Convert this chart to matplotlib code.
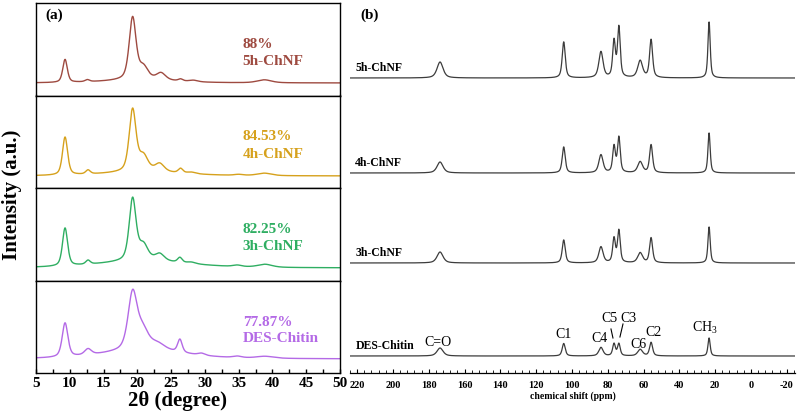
import numpy as np
import matplotlib
matplotlib.use("Agg")
import matplotlib.pyplot as plt
from matplotlib.ticker import MultipleLocator

plt.rcParams['font.family'] = ['Liberation Serif', 'DejaVu Serif']
plt.rcParams['mathtext.fontset'] = 'custom'
plt.rcParams['mathtext.rm'] = 'Liberation Serif'
plt.rcParams['axes.unicode_minus'] = False

# ---------------- (a) XRD data: peak lists ----------------
xrd_names = ['5h-ChNF', '4h-ChNF', '3h-ChNF', 'DES-Chitin']
xrd_ci = ['88%', '84.53%', '82.25%', '77.87%']
xrd_colors = ['#9e4a40', '#d6a11c', '#2fae62', '#b46ae6']
xrd_base = [12.5, 12.0, 12.5, 14.0]
# (centre 2theta, height, fwhm)
xrd_peaks = [
    [(20.5, 3, 12), (9.3, 23, 0.8), (12.6, 2, 0.8), (19.3, 62, 1.2), (20.9, 12, 1.6),
     (23.5, 7, 1.6), (26.4, 2, 0.8), (28.3, 1.5, 1.5), (38.8, 3, 2.5)],
    [(21, 4, 14), (9.3, 38, 0.9), (12.7, 4, 0.8), (19.3, 62, 1.2), (20.9, 15, 1.6),
     (23.3, 8, 1.6), (26.4, 4.5, 0.8), (28, 1.5, 1.5), (35, 1, 1.5), (38.8, 2.5, 2.5)],
    [(21, 7, 16), (9.3, 38, 0.9), (12.7, 4, 0.8), (19.3, 62, 1.2), (20.9, 15, 1.6),
     (23.3, 7, 1.6), (26.3, 5, 0.8), (28, 1.5, 1.5), (34.8, 1.5, 1.5), (38.9, 3, 2.5)],
    [(21, 9, 14), (9.3, 34, 1.0), (12.7, 6, 1.2), (19.3, 56, 1.6), (20.8, 18, 2.0),
     (23, 6, 2.5), (26.3, 13, 0.8), (29.5, 2, 1.2), (34.8, 1.5, 1.5), (38.9, 2, 3)],
]

# ---------------- (b) 13C NMR data ----------------
nmr_names = ['5h-ChNF', '4h-ChNF', '3h-ChNF', 'DES-Chitin']
nmr_offsets = [295, 200, 110, 17]
nmr_pos = [173.7, 104.6, 83.8, 76.5, 73.8, 61.9, 55.8, 23.4]
nmr_fwhm = [4.0, 2.0, 2.8, 1.8, 1.8, 3.2, 2.0, 1.5]
nmr_heights = [
    [16, 36, 26, 36, 50, 17, 38, 56],
    [11, 26, 18, 26, 35, 11, 28, 40],
    [11, 23, 16, 24, 32, 10, 25, 36],
    [8, 12.5, 8.5, 12, 12, 6.5, 13.5, 18],
]
nmr_labels = ['C=O', 'C1', 'C4', 'C5', 'C3', 'C6', 'C2', 'CH$_3$']
nmr_label_x = [175, 104.5, 84.4, 79.3, 68.2, 62.6, 54.7, 25.7]
nmr_label_y = [30, 38, 35, 54, 54, 29, 40, 45]


def pvoigt(x, peaks, eta=0.5):
    y = np.zeros_like(x)
    for c, h, w in peaks:
        g = np.exp(-4 * np.log(2) * ((x - c) / w) ** 2)
        l = 1 / (1 + 4 * ((x - c) / w) ** 2)
        y += h * (eta * l + (1 - eta) * g)
    return y


W, H = 797, 420
fig = plt.figure(figsize=(W / 100, H / 100), dpi=100)

# left panel stack
tth = np.linspace(5, 50, 2000)
top, bottom = 3, 373
ph = (bottom - top) / 4
axes_a = []
for i in range(4):
    y0 = top + ph * (i + 1)
    ax = fig.add_axes([36 / W, 1 - y0 / H, 304 / W, ph / H])
    y = xrd_base[i] + pvoigt(tth, xrd_peaks[i])
    ax.plot(tth, y, color=xrd_colors[i], lw=1.0)
    ax.set_xlim(5, 50)
    ax.set_ylim(0, ph)
    ax.set_yticks([])
    for s in ax.spines.values():
        s.set_linewidth(1.0)
    ax.text(35.6, 51, xrd_ci[i], color=xrd_colors[i], fontsize=11, fontweight='bold',
            ha='left', va='center')
    ax.text(35.6, 34, xrd_names[i], color=xrd_colors[i], fontsize=11, fontweight='bold',
            ha='left', va='center')
    if i < 3:
        ax.set_xticks([])
    else:
        ax.xaxis.set_major_locator(MultipleLocator(5))
        ax.xaxis.set_minor_locator(MultipleLocator(2.5))
        ax.tick_params(axis='x', which='both', direction='in', length=3, width=1.0,
                       labelsize=11, pad=3)
        for lab in ax.get_xticklabels():
            lab.set_fontweight('bold')
        ax.set_xlabel('2θ (degree)', fontsize=15, fontweight='bold')
        ax.xaxis.set_label_coords((177 - 36) / 304, (373 - 406) / ph)
        ax.xaxis.label.set_va('baseline')
    axes_a.append(ax)

axes_a[0].text(0.03, 0.87, '(a)', transform=axes_a[0].transAxes, fontsize=11,
               fontweight='bold', ha='left', va='center')
fig.text(12 / W, 1 - 195 / H, 'Intensity (a.u.)', rotation=90, fontsize=15,
         fontweight='bold', ha='center', va='center')

# right panel
axb = fig.add_axes([350 / W, 1 - 373 / H, 445 / W, 370 / H])
ppm = np.linspace(230, -30, 4000)
for i in range(4):
    peaks = list(zip(nmr_pos, nmr_heights[i], nmr_fwhm))
    y = nmr_offsets[i] + pvoigt(ppm, peaks, eta=0.6)
    axb.plot(ppm, y, color='#3c3c3c', lw=0.9)
    axb.text(221, nmr_offsets[i] + 10, nmr_names[i], fontsize=8.5, fontweight='bold',
             ha='left', va='center')
for lab, lx, ly in zip(nmr_labels, nmr_label_x, nmr_label_y):
    axb.text(lx, ly, lab, fontsize=10, ha='center', va='center')
axb.plot([78.2, 77.1], [44, 35], color='black', lw=0.8)
axb.plot([71.5, 73.2], [49, 36], color='black', lw=0.8)
axb.set_xlim(224, -24.6)
axb.set_ylim(0, 370)
axb.set_yticks([])
for s in ['top', 'left', 'right']:
    axb.spines[s].set_visible(False)
axb.spines['bottom'].set_linewidth(0.9)
axb.xaxis.set_major_locator(MultipleLocator(20))
axb.xaxis.set_minor_locator(MultipleLocator(4))
axb.tick_params(axis='x', which='major', direction='in', length=3, width=0.8,
                labelsize=7.5, pad=6)
axb.tick_params(axis='x', which='minor', direction='in', length=2, width=0.6)
for lab in axb.get_xticklabels():
    lab.set_fontweight('bold')
axb.set_xlabel('chemical shift (ppm)', fontsize=7, fontweight='bold', labelpad=1)
fig.text(360 / W, 1 - 15 / H, '(b)', fontsize=11, fontweight='bold', ha='left',
         va='center')

fig.savefig('out.png', dpi=100)
